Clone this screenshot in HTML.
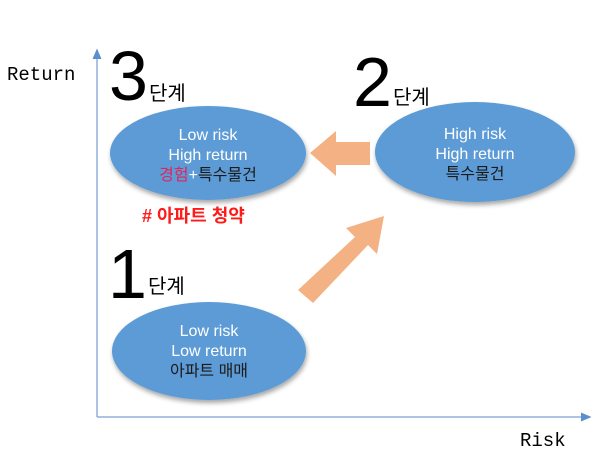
<!DOCTYPE html>
<html><head><meta charset="utf-8"><style>
body{margin:0;width:609px;height:465px;background:#fff;overflow:hidden}
svg{display:block}
text{font-family:"Liberation Sans","Noto Sans CJK KR",sans-serif}
text.mono{font-family:"Liberation Mono",monospace}
</style></head><body>
<svg width="609" height="465" viewBox="0 0 609 465">
<defs>
<filter id="sh" x="-20%" y="-20%" width="140%" height="150%"><feDropShadow dx="1" dy="3" stdDeviation="2.5" flood-color="#000" flood-opacity="0.35"/></filter>
<marker id="ah" markerWidth="8" markerHeight="8" refX="6" refY="4" orient="auto"><path d="M0,1 L7,4 L0,7 z" fill="#5b8fd0"/></marker>
</defs>
<line x1="97" y1="417" x2="97" y2="50" stroke="#8fb0dc" stroke-width="1.5" marker-end="url(#ah)"/>
<line x1="97" y1="417" x2="590" y2="417" stroke="#8fb0dc" stroke-width="1.5" marker-end="url(#ah)"/>
<text class="mono" x="7" y="80" font-size="19">Return</text>
<text class="mono" x="520" y="446" font-size="19">Risk</text>

<ellipse cx="208" cy="153" rx="98" ry="47" fill="#5b9bd5" filter="url(#sh)"/>
<ellipse cx="475" cy="152" rx="100" ry="50" fill="#5b9bd5" filter="url(#sh)"/>
<ellipse cx="209" cy="351" rx="97" ry="49" fill="#5b9bd5" filter="url(#sh)"/>

<text x="109" y="100" font-size="70">3</text><text x="149" y="100" font-size="20">단계</text>
<text x="353" y="106" font-size="70">2</text><text x="393" y="104" font-size="20">단계</text>
<text x="108" y="298" font-size="70">1</text><text x="148" y="293" font-size="20">단계</text>

<g font-size="16" text-anchor="middle" fill="#fff">
<text x="208" y="140">Low risk</text><text x="208" y="160">High return</text>
<text x="208" y="180"><tspan fill="#e0245e">경험</tspan><tspan fill="#fff">+</tspan><tspan fill="#1a1a1a">특수물건</tspan></text>
<text x="475" y="139">High risk</text><text x="475" y="159">High return</text>
<text x="475" y="179" fill="#1a1a1a">특수물건</text>
<text x="209" y="336">Low risk</text><text x="209" y="356">Low return</text>
<text x="209" y="376" fill="#1a1a1a">아파트 매매</text>
</g>
<text x="142" y="222" font-size="18" font-weight="bold" fill="#ff1a1a">#  아파트  청약</text>

<polygon points="310,153 336,131 336,142 370,142 370,165 336,165 336,176" fill="#f4b183"/>
<polygon points="298,290 355,237 346,228 384,216 377,254 368,245 313,303" fill="#f4b183"/>
</svg>
</body></html>
